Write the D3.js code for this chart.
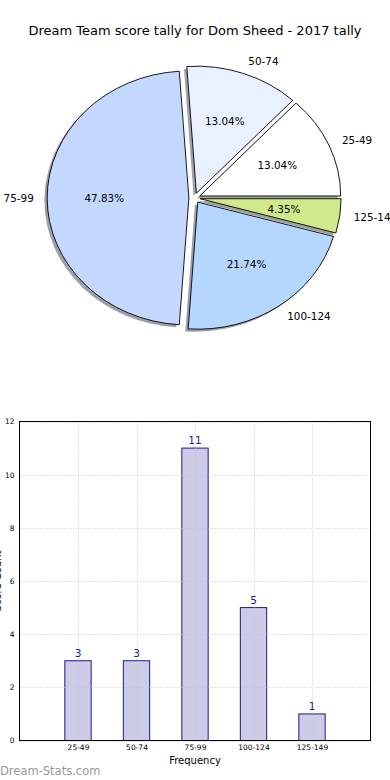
<!DOCTYPE html>
<html><head><meta charset="utf-8">
<script src="https://cdn.jsdelivr.net/npm/d3@7"></script>
<style>body{margin:0;background:#fff;} svg{display:block;font-family:"DejaVu Sans",sans-serif;}</style>
</head><body>
<svg id="c" width="390" height="780"></svg>
<script>
const title = "Dream Team score tally for Dom Sheed - 2017 tally";
const categories = ["25-49","50-74","75-99","100-124","125-149"];
const counts = [3,3,11,5,1];
const sliceColors = ["#ffffff","#e9f0ff","#c4d8ff","#b4d6ff","#cfea8a"];
const yTicks = [0,2,4,6,8,10,12];
const xLabel = "Frequency";
const yLabel = "Score Count";
const watermark = "Dream-Stats.com";

const svg = d3.select("#c");

// Title
svg.append("text").attr("x",195).attr("y",35).attr("text-anchor","middle")
  .attr("font-size",13).attr("fill","#000").text(title);

// ---------- Pie (elliptical, matplotlib-like) ----------
const cx = 194.5, cy = 198, rx = 141, ry = 127, explode = 0.04;
const total = d3.sum(counts);
const pie = d3.pie().sort(null).startAngle(Math.PI/2).endAngle(Math.PI/2 - 2*Math.PI);
const arcs = pie(counts);
const unitArc = d3.arc().innerRadius(0).outerRadius(1);
const gPie = svg.append("g");
function sliceCenter(a){
  const m = (a.startAngle + a.endAngle)/2;
  return [cx + explode*rx*Math.sin(m), cy - explode*ry*Math.cos(m), m];
}
// shadows
arcs.forEach((a,i)=>{
  const [sx,sy] = sliceCenter(a);
  const c = d3.rgb(sliceColors[i]);
  gPie.append("path").attr("d", unitArc(a))
    .attr("transform",`translate(${sx-0.02*rx},${sy+0.02*ry}) scale(${rx},${ry})`)
    .attr("fill", d3.rgb(c.r*0.3,c.g*0.3,c.b*0.3)).attr("fill-opacity",0.5)
    .attr("stroke","none");
});
// wedges
arcs.forEach((a,i)=>{
  const [sx,sy] = sliceCenter(a);
  gPie.append("path").attr("d", unitArc(a))
    .attr("transform",`translate(${sx},${sy}) scale(${rx},${ry})`)
    .attr("fill", sliceColors[i]).attr("stroke","#000").attr("stroke-width",0.9)
    .attr("vector-effect","non-scaling-stroke").attr("stroke-linejoin","miter");
});
// labels
arcs.forEach((a,i)=>{
  const [sx,sy,m] = sliceCenter(a);
  const lx = sx + 1.1*rx*Math.sin(m), ly = sy - 1.1*ry*Math.cos(m);
  gPie.append("text").attr("x",lx).attr("y",ly).attr("dy","0.35em")
    .attr("text-anchor", Math.sin(m) > 0 ? "start" : "end")
    .attr("font-size",10.4).attr("fill","#000").text(categories[i]);
  const px = sx + 0.6*rx*Math.sin(m), py = sy - 0.6*ry*Math.cos(m);
  gPie.append("text").attr("x",px).attr("y",py).attr("dy","0.35em")
    .attr("text-anchor","middle").attr("font-size",10.4).attr("fill","#000")
    .text((counts[i]/total*100).toFixed(2) + "%");
});

// ---------- Bar chart ----------
const L = 19.5, R = 370.5, T = 421.5, B = 740.5;
const x = d3.scaleLinear().domain([-1, categories.length]).range([L, R]);
const y = d3.scaleLinear().domain([0, 12]).range([B, T]);
const gBar = svg.append("g");
const bw = 0.45;
counts.forEach((v,i)=>{
  gBar.append("rect").attr("x",x(i-bw/2)).attr("y",y(v))
    .attr("width",x(i+bw/2)-x(i-bw/2)).attr("height",y(0)-y(v))
    .attr("fill","#cccce6")
    .attr("stroke","#1a1a8a").attr("stroke-width",1);
});
// grid drawn above bars (dotted)
categories.forEach((c,i)=>{
  gBar.append("line").attr("x1",Math.round(x(i))+0.5).attr("x2",Math.round(x(i))+0.5)
    .attr("y1",T).attr("y2",B).attr("stroke","#c4c4cc").attr("stroke-width",1)
    .attr("stroke-dasharray","1,2");
});
yTicks.forEach(t=>{
  gBar.append("line").attr("x1",L).attr("x2",R).attr("y1",Math.round(y(t))+0.5).attr("y2",Math.round(y(t))+0.5)
   .attr("stroke","#c4c4cc").attr("stroke-width",1).attr("stroke-dasharray","1,2");
});
counts.forEach((v,i)=>{
  gBar.append("text").attr("x",x(i)).attr("y",y(v)-4).attr("text-anchor","middle")
    .attr("font-size",10.5).attr("fill","#1a1a8a").text(v);
});
// frame
gBar.append("rect").attr("x",L).attr("y",T).attr("width",R-L).attr("height",B-T)
  .attr("fill","none").attr("stroke","#000").attr("stroke-width",1);
// axes ticks labels
const yAxis = d3.axisLeft(y).tickValues(yTicks).tickSize(0).tickPadding(5);
const ya = gBar.append("g").attr("transform",`translate(${L},0)`).call(yAxis);
ya.select(".domain").remove();
ya.selectAll("text").attr("font-size",7.5).attr("fill","#000").attr("font-family","DejaVu Sans");
const xAxis = d3.axisBottom(x).tickValues(d3.range(categories.length)).tickFormat(i=>categories[i]).tickSize(0).tickPadding(4);
const xa = gBar.append("g").attr("transform",`translate(0,${B})`).call(xAxis);
xa.select(".domain").remove();
xa.selectAll("text").attr("font-size",7.5).attr("fill","#000").attr("font-family","DejaVu Sans");
svg.append("text").attr("x",(L+R)/2).attr("y",764).attr("text-anchor","middle")
  .attr("font-size",10).attr("fill","#000").text(xLabel);
svg.append("text").attr("transform",`translate(1,${(T+B)/2}) rotate(-90)`)
  .attr("text-anchor","middle").attr("font-size",10).attr("fill","#000").text(yLabel);
// watermark
svg.append("text").attr("x",0).attr("y",775).attr("font-size",11.5).attr("fill","#999")
  .attr("font-family","DejaVu Sans, sans-serif").text(watermark);
</script>
</body></html>
